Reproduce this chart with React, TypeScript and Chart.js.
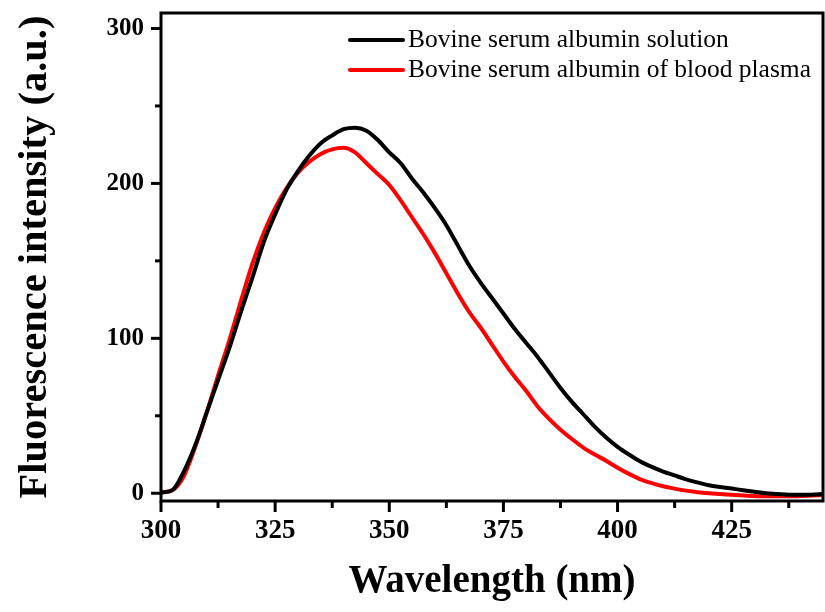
import React, { useEffect, useRef } from "react";
import { Chart, registerables } from "chart.js";

Chart.register(...registerables);

const wavelengths = [
  300, 302.5, 305, 307.5, 310, 312.5, 315, 317.5, 320, 322.5, 325, 327.5, 330, 332.5, 335, 337.5,
  340, 342.5, 345, 347.5, 350, 352.5, 355, 357.5, 360, 362.5, 365, 367.5, 370, 372.5, 375, 377.5,
  380, 382.5, 385, 387.5, 390, 392.5, 395, 397.5, 400, 402.5, 405, 407.5, 410, 412.5, 415, 417.5,
  420, 422.5, 425, 427.5, 430, 432.5, 435, 437.5, 440, 442.5, 445,
];

const solutionValues = [
  0.5, 2, 14, 31, 52, 73, 94, 117, 139, 162, 180, 196, 208, 218, 226, 231,
  235, 236, 234, 228, 220, 213, 203, 194, 184, 173, 160, 147, 136, 126, 116, 106,
  97, 88, 78, 68, 59, 51, 43, 36, 30, 25, 20.5, 17, 14, 11.5, 9, 7,
  5.2, 4, 3, 2, 1, 0, -0.5, -1, -1, -1, -0.5,
];

const plasmaValues = [
  0.5, 2, 11, 30, 52, 76, 99, 124, 148, 168, 184, 197, 207, 214, 219, 222,
  223, 220, 213, 206, 199, 189, 178, 167, 155, 142, 129, 117, 107, 96, 85, 75,
  66, 56, 48, 41, 35, 29.5, 25, 21, 16.5, 12.5, 9, 6.5, 4.5, 3, 1.7, 0.7,
  0, -0.5, -1, -1.5, -1.8, -2, -2, -2, -1.8, -1.5, -1.2,
];

const seriesLabels = [
  "Bovine serum albumin solution",
  "Bovine serum albumin of blood plasma",
];
const seriesColors = ["#000000", "#ff0000"];

const xMajorTicks = [300, 325, 350, 375, 400, 425];
const xMinorTicks = [312.5, 337.5, 362.5, 387.5, 412.5, 437.5];
const yMajorTicks = [0, 100, 200, 300];
const yMinorTicks = [50, 150, 250];

const xTitle = "Wavelength (nm)";
const yTitle = "Fluorescence intensity (a.u.)";

const SERIF = '"Liberation Serif", "Times New Roman", serif';

const framePlugin = {
  id: "frame",
  afterDraw(chart: any) {
    const { ctx, chartArea, scales } = chart;
    const { left, right, top, bottom } = chartArea;
    ctx.save();
    ctx.strokeStyle = "#000";
    ctx.lineWidth = 3;
    ctx.lineCap = "butt";
    ctx.strokeRect(left, top, right - left, bottom - top);
    const xs = scales.x;
    const ys = scales.y;
    const seg = (x1: number, y1: number, x2: number, y2: number) => {
      ctx.beginPath();
      ctx.moveTo(x1, y1);
      ctx.lineTo(x2, y2);
      ctx.stroke();
    };
    xMajorTicks.forEach((v) => {
      const x = xs.getPixelForValue(v);
      seg(x, bottom, x, bottom + 11);
    });
    xMinorTicks.forEach((v) => {
      const x = xs.getPixelForValue(v);
      seg(x, bottom, x, bottom + 7);
    });
    yMajorTicks.forEach((v) => {
      const y = ys.getPixelForValue(v);
      seg(left, y, left - 10, y);
    });
    yMinorTicks.forEach((v) => {
      const y = ys.getPixelForValue(v);
      seg(left, y, left - 6, y);
    });

    // legend
    const lx1 = 350;
    const lx2 = 403;
    const rows = [40, 70];
    chart.data.datasets.forEach((ds: any, i: number) => {
      const y = rows[i];
      ctx.strokeStyle = ds.borderColor;
      ctx.lineWidth = 4;
      ctx.lineCap = "round";
      seg(lx1, y, lx2, y);
      ctx.fillStyle = "#000";
      ctx.font = `25.5px ${SERIF}`;
      ctx.textBaseline = "middle";
      ctx.textAlign = "left";
      ctx.fillText(ds.label, lx2 + 5, y);
    });
    ctx.restore();
  },
};

export default function App() {
  const canvasRef = useRef<HTMLCanvasElement | null>(null);

  useEffect(() => {
    document.body.style.margin = "0";
    const canvas = canvasRef.current;
    if (!canvas) return;
    const toPoints = (vals: number[]) => wavelengths.map((w, i) => ({ x: w, y: vals[i] }));
    const chart = new Chart(canvas, {
      type: "line",
      data: {
        datasets: [
          {
            label: seriesLabels[0],
            data: toPoints(solutionValues),
            borderColor: seriesColors[0],
            borderWidth: 4,
            pointRadius: 0,
            cubicInterpolationMode: "monotone",
          },
          {
            label: seriesLabels[1],
            data: toPoints(plasmaValues),
            borderColor: seriesColors[1],
            borderWidth: 4,
            pointRadius: 0,
            cubicInterpolationMode: "monotone",
          },
        ],
      },
      options: {
        responsive: false,
        animation: false,
        devicePixelRatio: 1,
        layout: { padding: { top: 13, right: 2, left: 0, bottom: 0 } },
        plugins: {
          legend: { display: false },
          tooltip: { enabled: false },
        },
        scales: {
          x: {
            type: "linear",
            min: 300,
            max: 445,
            grid: { display: false, drawTicks: false },
            border: { display: false },
            afterBuildTicks: (scale: any) => {
              scale.ticks = xMajorTicks.map((v) => ({ value: v }));
            },
            afterFit: (scale: any) => {
              scale.height = 111;
              scale.paddingLeft = 0;
              scale.paddingRight = 0;
            },
            ticks: {
              padding: 14,
              color: "#000",
              maxRotation: 0,
              autoSkip: false,
              font: { family: SERIF, size: 27, weight: "bold" },
              callback: (v: any) => String(v),
            },
            title: {
              display: true,
              text: xTitle,
              color: "#000",
              font: { family: SERIF, size: 39, weight: "bold" },
              padding: { top: 0, bottom: 7 },
            },
          },
          y: {
            type: "linear",
            min: -5,
            max: 310,
            grid: { display: false, drawTicks: false },
            border: { display: false },
            afterBuildTicks: (scale: any) => {
              scale.ticks = yMajorTicks.map((v) => ({ value: v }));
            },
            afterFit: (scale: any) => {
              scale.width = 161;
              scale.paddingTop = 0;
              scale.paddingBottom = 0;
            },
            ticks: {
              padding: 17,
              color: "#000",
              autoSkip: false,
              font: { family: SERIF, size: 25, weight: "bold" },
              callback: (v: any) => String(v),
            },
            title: {
              display: true,
              text: yTitle,
              color: "#000",
              font: { family: SERIF, size: 40.5, weight: "bold" },
              padding: { top: 11, bottom: 0 },
            },
          },
        },
      },
      plugins: [framePlugin],
    } as any);
    return () => chart.destroy();
  }, []);

  return (
    <div style={{ width: 825, height: 612 }}>
      <canvas ref={canvasRef} width={825} height={612} style={{ display: "block" }} />
    </div>
  );
}
